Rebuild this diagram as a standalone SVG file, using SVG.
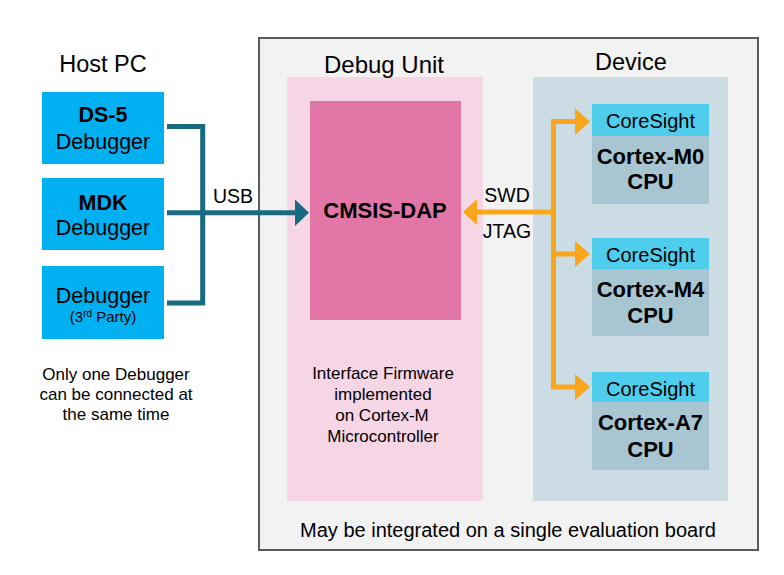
<svg xmlns="http://www.w3.org/2000/svg" width="784" height="575" viewBox="0 0 784 575">
<defs>
<style>
text{font-family:"Liberation Sans",Arial,sans-serif;fill:#000;text-anchor:middle}
.b{font-weight:bold}
.dbg{fill:#00B0F0}
.cs{fill:#4FCDEC}
.cpu{fill:#A8C5D2}
.teal{stroke:#186A80;stroke-width:5;fill:none}
.orange{stroke:#F9A61B;stroke-width:5;fill:none}
</style>
</defs>
<rect width="784" height="575" fill="#FFFFFF"/>
<g id="board">
<rect x="259" y="38" width="499" height="512" fill="#F2F2F2" stroke="#5A5A5A" stroke-width="2"/>
<text x="508" y="537" font-size="20">May be integrated on a single evaluation board</text>
</g>
<g id="host-pc">
<text x="103" y="72" font-size="23.5">Host PC</text>
<text x="116" y="380" font-size="17">Only one Debugger</text>
<text x="116" y="400" font-size="17">can be connected at</text>
<text x="116" y="420" font-size="17">the same time</text>
</g>
<g id="ds5">
<rect class="dbg" x="42" y="92" width="122" height="72"/>
<text class="b" x="103" y="122" font-size="21.5">DS-5</text>
<text x="103" y="149" font-size="21.5">Debugger</text>
</g>
<g id="mdk">
<rect class="dbg" x="42" y="178" width="122" height="72"/>
<text class="b" x="103" y="210" font-size="21.5">MDK</text>
<text x="103" y="235" font-size="21.5">Debugger</text>
</g>
<g id="third-party">
<rect class="dbg" x="42" y="266" width="122" height="73"/>
<text x="103" y="303" font-size="21.5">Debugger</text>
<text x="103" y="322" font-size="15">(3<tspan font-size="10" dy="-5">rd</tspan><tspan dy="5"> Party)</tspan></text>
</g>
<g id="debug-unit">
<rect x="287" y="77" width="196" height="424" fill="#F6D5E5"/>
<text x="384" y="73" font-size="24">Debug Unit</text>
<text x="383" y="379" font-size="17">Interface Firmware</text>
<text x="383" y="400" font-size="17">implemented</text>
<text x="382" y="421" font-size="17">on Cortex-M</text>
<text x="383" y="442" font-size="17">Microcontroller</text>
</g>
<g id="cmsis-dap">
<rect x="310" y="101" width="151" height="219" fill="#E276A6"/>
<text class="b" x="385" y="218" font-size="22">CMSIS-DAP</text>
</g>
<g id="device">
<rect x="533" y="77" width="195" height="424" fill="#CCDCE4"/>
<text x="631" y="70" font-size="23.5">Device</text>
</g>
<g id="cortex-m0">
<rect class="cpu" x="592" y="104" width="117" height="100"/>
<rect class="cs" x="592" y="104" width="117" height="32"/>
<text x="650.5" y="128" font-size="20">CoreSight</text>
<text class="b" x="650.5" y="164" font-size="22">Cortex-M0</text>
<text class="b" x="650.5" y="189" font-size="22">CPU</text>
</g>
<g id="cortex-m4">
<rect class="cpu" x="592" y="238" width="117" height="98"/>
<rect class="cs" x="592" y="238" width="117" height="31"/>
<text x="650.5" y="262" font-size="20">CoreSight</text>
<text class="b" x="650.5" y="297" font-size="22">Cortex-M4</text>
<text class="b" x="650.5" y="323" font-size="22">CPU</text>
</g>
<g id="cortex-a7">
<rect class="cpu" x="592" y="372" width="117" height="98"/>
<rect class="cs" x="592" y="372" width="117" height="30"/>
<text x="650.5" y="396" font-size="20">CoreSight</text>
<text class="b" x="650.5" y="430" font-size="22">Cortex-A7</text>
<text class="b" x="650.5" y="457" font-size="22">CPU</text>
</g>
<g id="connectors">
<path class="teal" d="M167 126.5 H202.7 V303 H167"/>
<path class="teal" d="M167 212.7 H297"/>
<polygon points="295,199.5 309,212.7 295,226" fill="#186A80"/>
<text x="233" y="203" font-size="19.5">USB</text>
<path class="orange" d="M553.5 121.5 V389.5 M551 121.5 H577 M551 254 H577 M551 387 H577 M553.5 212 H476"/>
<polygon points="575,108.5 590,121.5 575,135" fill="#F9A61B"/>
<polygon points="575,241 590,254 575,267" fill="#F9A61B"/>
<polygon points="575,374 590,387 575,400" fill="#F9A61B"/>
<polygon points="477,199 463,212 477,225" fill="#F9A61B"/>
<text x="507" y="202" font-size="19.5">SWD</text>
<text x="507" y="238" font-size="19.5">JTAG</text>
</g>
</svg>
